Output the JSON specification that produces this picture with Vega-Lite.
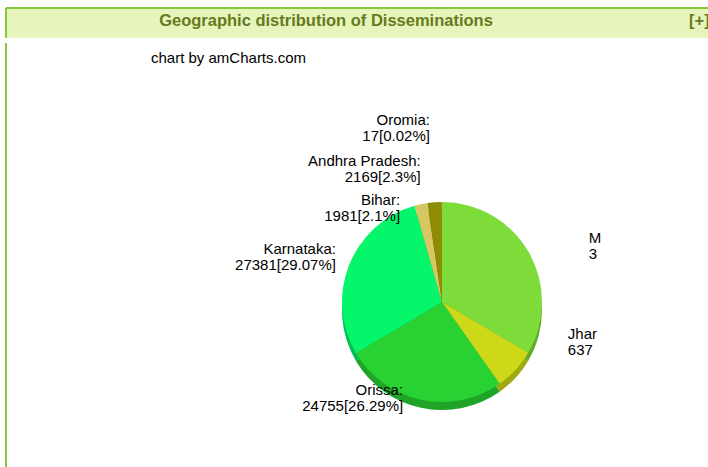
{
  "$schema": "https://vega.github.io/schema/vega-lite/v6.json",
  "padding": {"left": 5, "top": 7, "right": 0, "bottom": 0},
  "spacing": 0,
  "background": "white",
  "config": {
    "font": "Liberation Sans",
    "view": {"stroke": "#86c83e", "strokeWidth": 2},
    "text": {"font": "Liberation Sans", "fontSize": 15, "color": "#000000", "lineBreak": "\n", "lineHeight": 16}
  },
  "datasets": {
    "states": [
      {"rank": 1, "state": "Madhya Pradesh", "value": 31502, "pct": 33.45, "label": "Madhya Pradesh:\n31502[33.45%]"},
      {"rank": 2, "state": "Jharkhand", "value": 6375, "pct": 6.77, "label": "Jharkhand:\n6375[6.77%]"},
      {"rank": 3, "state": "Orissa", "value": 24755, "pct": 26.29, "label": "Orissa:\n24755[26.29%]"},
      {"rank": 4, "state": "Karnataka", "value": 27381, "pct": 29.07, "label": "Karnataka:\n27381[29.07%]"},
      {"rank": 5, "state": "Bihar", "value": 1981, "pct": 2.1, "label": "Bihar:\n1981[2.1%]"},
      {"rank": 6, "state": "Andhra Pradesh", "value": 2169, "pct": 2.3, "label": "Andhra Pradesh:\n2169[2.3%]"},
      {"rank": 7, "state": "Oromia", "value": 17, "pct": 0.02, "label": "Oromia:\n17[0.02%]"}
    ]
  },
  "vconcat": [
    {
      "width": 702,
      "height": 30,
      "view": {"fill": "#e6f5bb", "stroke": "#86c83e", "strokeWidth": 2, "strokeDash": [702, 732, 30, 0]},
      "layer": [
        {
          "data": {"values": [{"t": "Geographic distribution of Disseminations"}]},
          "mark": {"type": "text", "x": 320, "y": 13, "align": "center", "baseline": "middle", "fontSize": 16.5, "fontWeight": "bold", "color": "#667a1e"},
          "encoding": {"text": {"field": "t", "type": "nominal"}}
        },
        {
          "data": {"values": [{"t": "[+]"}]},
          "mark": {"type": "text", "x": 683, "y": 13, "align": "left", "baseline": "middle", "fontSize": 16.5, "fontWeight": "bold", "color": "#667a1e"},
          "encoding": {"text": {"field": "t", "type": "nominal"}}
        }
      ]
    },
    {
      "width": 702,
      "height": 429,
      "view": {"fill": "white", "stroke": "#86c83e", "strokeWidth": 2, "strokeDash": [0, 1833, 429, 0]},
      "data": {"name": "states"},
      "encoding": {
        "theta": {"field": "value", "type": "quantitative", "stack": true},
        "order": {"field": "rank", "type": "quantitative"}
      },
      "layer": [
        {
          "mark": {"type": "arc", "x": 436, "y": 267, "outerRadius": 100},
          "encoding": {
            "color": {
              "field": "state", "type": "nominal", "legend": null,
              "scale": {
                "domain": ["Madhya Pradesh", "Jharkhand", "Orissa", "Karnataka", "Bihar", "Andhra Pradesh", "Oromia"],
                "range": ["#7ddc3a", "#cdd818", "#28d232", "#05f56b", "#d6c762", "#8c8c05", "#c8a020"]
              }
            }
          }
        },
        {
          "mark": {"type": "arc", "x": 436, "y": 267, "outerRadius": 100, "color": "#000000", "opacity": 0.22}
        },
        {
          "mark": {"type": "arc", "x": 436, "y": 259, "outerRadius": 100},
          "encoding": {
            "color": {"field": "state", "type": "nominal", "legend": null}
          }
        },
        {
          "mark": {"type": "text", "x": 436, "y": 259, "radius": 112, "align": "right", "baseline": "middle", "dx": -2, "dy": -12},
          "encoding": {"text": {"condition": {"test": "datum.state == 'Karnataka'", "field": "label", "type": "nominal"}, "value": ""}}
        },
        {
          "mark": {"type": "text", "x": 436, "y": 259, "radius": 90, "align": "right", "baseline": "middle", "dx": -20},
          "encoding": {"text": {"condition": {"test": "datum.state == 'Orissa'", "field": "label", "type": "nominal"}, "value": ""}}
        },
        {
          "mark": {"type": "text", "x": 436, "y": 259, "radius": 104, "align": "right", "baseline": "middle", "dx": -20},
          "encoding": {"text": {"condition": {"test": "datum.state == 'Bihar'", "field": "label", "type": "nominal"}, "value": ""}}
        },
        {
          "mark": {"type": "text", "x": 436, "y": 259, "radius": 141, "align": "right", "baseline": "middle", "dx": -11},
          "encoding": {"text": {"condition": {"test": "datum.state == 'Andhra Pradesh'", "field": "label", "type": "nominal"}, "value": ""}}
        },
        {
          "mark": {"type": "text", "x": 436, "y": 259, "radius": 182, "align": "right", "baseline": "middle", "dx": -12},
          "encoding": {"text": {"condition": {"test": "datum.state == 'Oromia'", "field": "label", "type": "nominal"}, "value": ""}}
        },
        {
          "mark": {"type": "text", "x": 436, "y": 259, "radius": 169, "align": "left", "baseline": "middle", "dy": 20, "limit": 15, "ellipsis": "\u200b"},
          "encoding": {"text": {"condition": {"test": "datum.state == 'Madhya Pradesh'", "field": "label", "type": "nominal"}, "value": ""}}
        },
        {
          "mark": {"type": "text", "x": 436, "y": 259, "radius": 171, "align": "left", "baseline": "middle", "dy": -84, "limit": 33, "ellipsis": "\u200b"},
          "encoding": {"text": {"condition": {"test": "datum.state == 'Jharkhand'", "field": "label", "type": "nominal"}, "value": ""}}
        },
        {
          "data": {"values": [{"t": "chart by amCharts.com"}]},
          "mark": {"type": "text", "x": 145, "y": 15, "align": "left", "baseline": "middle", "fontSize": 15},
          "encoding": {"text": {"field": "t", "type": "nominal"}, "theta": null, "order": null}
        }
      ]
    }
  ]
}
